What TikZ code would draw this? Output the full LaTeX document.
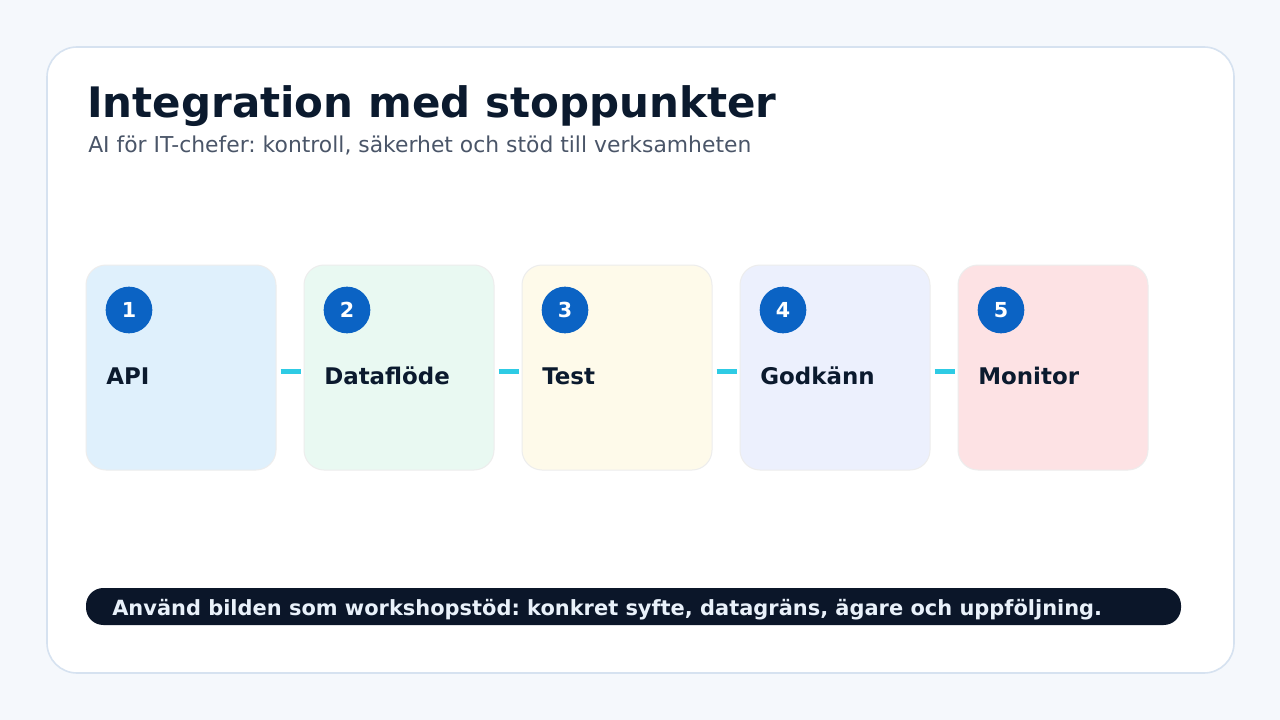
\documentclass[tikz,border=0pt]{standalone}
\usepackage{fontspec}
\setmainfont{DejaVu Sans}
\usetikzlibrary{positioning,calc}
\frenchspacing

\definecolor{pagebg}{HTML}{F5F8FC}
\definecolor{cardline}{HTML}{D6E2F0}
\definecolor{ink}{HTML}{0B1A2E}
\definecolor{subgray}{HTML}{4A5568}
\definecolor{badgeblue}{HTML}{0B63C4}
\definecolor{linkcyan}{HTML}{2ECBE4}
\definecolor{barnavy}{HTML}{0B1629}
\definecolor{bartext}{HTML}{E9F1FA}
\definecolor{boxa}{HTML}{DFF0FC}
\definecolor{boxb}{HTML}{E9F9F2}
\definecolor{boxc}{HTML}{FEFAEA}
\definecolor{boxd}{HTML}{ECF0FD}
\definecolor{boxe}{HTML}{FDE2E4}

\tikzset{
  stepbox/.style={draw=black!7,line width=0.75pt,rounded corners=15pt,
    minimum width=142.5pt,minimum height=153.75pt,inner sep=0pt},
  badge/.style={circle,fill=badgeblue,minimum size=35pt,inner sep=0pt,
    text=white,font=\bfseries\fontsize{15.5}{18}\selectfont},
  steplabel/.style={anchor=base west,inner sep=0pt,text=ink,
    font=\bfseries\fontsize{17.2}{20}\selectfont},
  link/.style={linkcyan,line width=3.75pt}
}

\begin{document}
\begin{tikzpicture}[x=0.75pt,y=-0.75pt]
  % page and card
  \fill[pagebg] (0,0) rectangle (1280,720);
  \useasboundingbox (0,0) rectangle (1280,720);
  \draw[cardline,fill=white,line width=1.2pt,rounded corners=22.5pt] (47,47) rectangle (1234,673);

  % heading
  \node[anchor=base west,inner sep=0pt,text=ink,font=\bfseries\fontsize{31.5}{36}\selectfont] (title) at (87,118) {Integration med stoppunkter};
  \node[anchor=base west,inner sep=0pt,text=subgray,font=\fontsize{16.4}{19}\selectfont] (subtitle) at (88,153) {AI för IT-chefer: kontroll, säkerhet och stöd till verksamheten};

  % steps
  \foreach \i/\name/\col in {1/API/boxa,2/Dataflöde/boxb,3/Test/boxc,4/Godkänn/boxd,5/Monitor/boxe} {
    \node[stepbox,fill=\col] (b\i) at ({181+(\i-1)*218},367.5) {};
    \node[badge] (n\i) at ({129+(\i-1)*218},310) {\i};
    \node[steplabel] (t\i) at ({106+(\i-1)*218},384) {\name};
  }

  % links between steps
  \foreach \i/\j in {1/2,2/3,3/4,4/5}
    \draw[link] ([shift={(4,3.5)}]b\i.east) -- ([shift={(-3,3.5)}]b\j.west);

  % note bar
  \node[fill=barnavy,rounded corners=13pt,minimum width=821.25pt,minimum height=27.75pt,inner sep=0pt] (bar) at (633.5,606.5) {};
  \node[anchor=base west,inner sep=0pt,text=bartext,font=\bfseries\fontsize{15.7}{18}\selectfont] (note) at (112,615) {Använd bilden som workshopstöd: konkret syfte, datagräns, ägare och uppföljning.};
\end{tikzpicture}
\end{document}
